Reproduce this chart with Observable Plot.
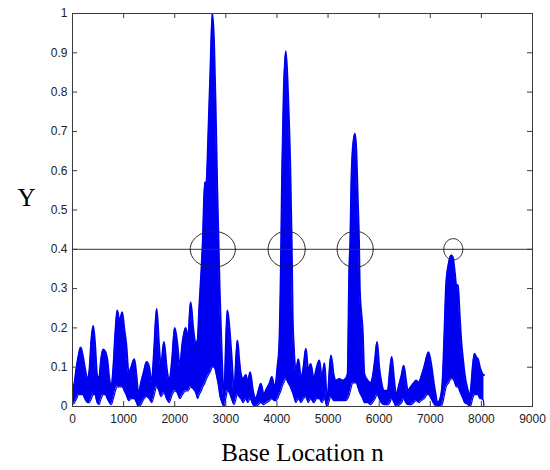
<!DOCTYPE html>
<html>
<head>
<meta charset="utf-8">
<script src="https://cdn.jsdelivr.net/npm/d3@7"></script>
<script src="https://cdn.jsdelivr.net/npm/@observablehq/plot@0.6"></script>
<style>
  html, body { margin: 0; padding: 0; background: #fff; }
  #chart { width: 550px; height: 470px; }
</style>
</head>
<body>
<div id="chart"></div>
<script>
// ---- data ----
const xLabel = "Base Location n";
const yLabel = "Y";
const xTicks = [0, 1000, 2000, 3000, 4000, 5000, 6000, 7000, 8000, 9000];
const yTicks = [0, 0.1, 0.2, 0.3, 0.4, 0.5, 0.6, 0.7, 0.8, 0.9, 1];
const threshold = 0.4;

const sigX = [0,40,80,120,160,200,240,290,330,370,405,440,480,520,560,600,640,680,720,760,800,840,876,920,973,1010,1050,1100,1150,1210,1250,1290,1340,1400,1450,1500,1550,1600,1647,1690,1730,1790,1840,1890,1950,2000,2050,2100,2150,2215,2260,2312,2360,2411,2450,2480,2520,2550,2590,2620,2660,2700,2738,2770,2800,2830,2860,2880,2910,2966,3000,3031,3070,3110,3162,3227,3260,3293,3340,3391,3430,3476,3530,3587,3640,3685,3740,3800,3860,3900,3950,3980,4010,4044,4077,4100,4130,4175,4220,4260,4290,4306,4330,4370,4420,4470,4520,4567,4610,4660,4720,4780,4830,4880,4930,4980,5057,5110,5154,5220,5285,5340,5384,5416,5436,5455,5481,5527,5553,5580,5605,5620,5678,5710,5776,5830,5873,5920,5959,6000,6037,6100,6168,6210,6246,6290,6331,6400,6440,6481,6520,6560,6620,6680,6723,6780,6821,6880,6940,6964,7017,7080,7147,7213,7245,7278,7311,7360,7409,7440,7480,7507,7540,7573,7605,7640,7671,7736,7769,7800,7830,7867,7900,7932,7970,7997,8040,8050];
const sigHi = [0.04,0.06,0.10,0.13,0.15,0.13,0.10,0.07,0.09,0.17,0.205,0.16,0.08,0.07,0.12,0.145,0.14,0.12,0.07,0.05,0.10,0.19,0.244,0.215,0.24,0.20,0.16,0.085,0.10,0.12,0.08,0.03,0.06,0.09,0.113,0.10,0.06,0.15,0.248,0.16,0.10,0.164,0.10,0.066,0.12,0.20,0.16,0.10,0.16,0.20,0.17,0.265,0.20,0.16,0.17,0.25,0.34,0.42,0.57,0.57,0.70,0.86,1.0,0.92,0.76,0.56,0.40,0.29,0.17,0.02,0.15,0.244,0.20,0.13,0.04,0.168,0.12,0.083,0.07,0.08,0.06,0.087,0.04,0.02,0.04,0.058,0.03,0.045,0.06,0.075,0.05,0.06,0.10,0.15,0.35,0.58,0.78,0.904,0.78,0.61,0.40,0.236,0.15,0.09,0.12,0.07,0.10,0.147,0.09,0.108,0.07,0.10,0.117,0.07,0.11,0.01,0.13,0.08,0.066,0.07,0.066,0.07,0.083,0.35,0.42,0.56,0.65,0.694,0.65,0.53,0.42,0.30,0.19,0.083,0.066,0.06,0.075,0.12,0.164,0.10,0.066,0.04,0.04,0.09,0.126,0.07,0.03,0.06,0.08,0.104,0.07,0.04,0.05,0.06,0.066,0.06,0.075,0.10,0.13,0.138,0.108,0.05,0.01,0.03,0.075,0.19,0.31,0.363,0.384,0.38,0.34,0.31,0.308,0.236,0.168,0.12,0.083,0.04,0.024,0.05,0.10,0.134,0.125,0.121,0.10,0.09,0.08,0.08];
const sigLo = [0.005,0.01,0.02,0.03,0.03,0.03,0.02,0.01,0.01,0.02,0.03,0.03,0.01,0.005,0.02,0.03,0.03,0.02,0.01,0.005,0.02,0.04,0.05,0.05,0.05,0.04,0.03,0.015,0.02,0.02,0.01,0.0,0.005,0.02,0.025,0.02,0.01,0.03,0.05,0.04,0.025,0.035,0.02,0.01,0.03,0.04,0.035,0.02,0.03,0.04,0.04,0.05,0.045,0.035,0.02,0.03,0.04,0.05,0.06,0.07,0.08,0.09,0.10,0.10,0.09,0.07,0.05,0.03,0.015,0.0,0.02,0.04,0.035,0.02,0.005,0.03,0.025,0.02,0.01,0.02,0.01,0.02,0.005,0.0,0.005,0.01,0.005,0.01,0.015,0.02,0.015,0.015,0.02,0.03,0.04,0.05,0.06,0.07,0.06,0.05,0.04,0.035,0.025,0.01,0.02,0.01,0.02,0.025,0.01,0.02,0.01,0.02,0.02,0.01,0.02,0.0,0.025,0.015,0.015,0.015,0.015,0.015,0.02,0.03,0.04,0.05,0.06,0.06,0.06,0.05,0.04,0.035,0.02,0.01,0.01,0.005,0.01,0.02,0.03,0.02,0.01,0.005,0.005,0.01,0.02,0.01,0.0,0.005,0.01,0.02,0.01,0.005,0.005,0.01,0.015,0.01,0.015,0.02,0.03,0.03,0.02,0.005,0.0,0.0,0.01,0.03,0.05,0.06,0.07,0.07,0.06,0.05,0.05,0.04,0.03,0.02,0.01,0.005,0.0,0.005,0.02,0.03,0.03,0.03,0.02,0.02,0.015,0.0];

// circled crossings of the threshold line
const ringX  = [2745, 4190, 5530, 7450];
const ringRx = [441, 363, 353, 186];
const ringRy = [0.046, 0.046, 0.046, 0.027];

// ---- build tables ----
const signal = sigX.map((x, i) => ({x, hi: sigHi[i], lo: sigLo[i]}));
const rings = [];
ringX.forEach((cx, k) => {
  for (let j = 0; j <= 72; j++) {
    const a = (j / 72) * 2 * Math.PI;
    rings.push({k, x: cx + ringRx[k] * Math.cos(a), y: threshold + ringRy[k] * Math.sin(a)});
  }
});

const W = 550, H = 470, mL = 72, mR = 18, mT = 13, mB = 64;
const innerW = W - mL - mR, innerH = H - mT - mB;
const tickLen = 5;
const frameColor = "#3a3a3a";
const blue = "#0000f0";

const fmtY = d => String(+d.toFixed(1));

const chart = Plot.plot({
  width: W,
  height: H,
  marginLeft: mL,
  marginRight: mR,
  marginTop: mT,
  marginBottom: mB,
  style: {fontFamily: "'Liberation Sans', Arial, sans-serif", fontSize: "12px", color: "#222", background: "#fff"},
  x: {domain: [0, 9000], ticks: xTicks, tickFormat: d => String(d), tickSize: 0, tickPadding: 8, label: null},
  y: {domain: [0, 1], ticks: yTicks, tickFormat: fmtY, tickSize: 0, tickPadding: 5, label: null},
  marks: [
    Plot.areaY(signal, {x: "x", y1: "lo", y2: "hi", fill: blue, curve: "monotone-x", clip: true}),
    Plot.line(signal, {x: "x", y: "hi", stroke: blue, strokeWidth: 2, curve: "monotone-x", clip: true}),
    Plot.line(signal, {x: "x", y: "lo", stroke: blue, strokeWidth: 1.2, curve: "monotone-x", clip: true}),
    Plot.ruleY([threshold], {stroke: "#333", strokeWidth: 1}),
    Plot.line(rings, {x: "x", y: "y", z: "k", stroke: "#222", strokeWidth: 1, clip: true}),
    // inward MATLAB-style ticks on all four sides
    Plot.tickX(xTicks, {x: d => d, insetTop: innerH - tickLen, stroke: frameColor}),
    Plot.tickX(xTicks, {x: d => d, insetBottom: innerH - tickLen, stroke: frameColor}),
    Plot.tickY(yTicks, {y: d => d, insetRight: innerW - tickLen, stroke: frameColor}),
    Plot.tickY(yTicks, {y: d => d, insetLeft: innerW - tickLen, stroke: frameColor}),
    Plot.frame({stroke: frameColor, strokeWidth: 1}),
    Plot.text([xLabel], {frameAnchor: "bottom", dy: 54, text: d => d, fontSize: 25, fontFamily: "'Liberation Serif', 'Times New Roman', serif", fill: "#000"}),
    Plot.text([yLabel], {frameAnchor: "left", dx: -55, dy: -12, text: d => d, fontSize: 25, fontFamily: "'Liberation Serif', 'Times New Roman', serif", fill: "#000"})
  ]
});
document.getElementById("chart").appendChild(chart);
</script>
</body>
</html>
